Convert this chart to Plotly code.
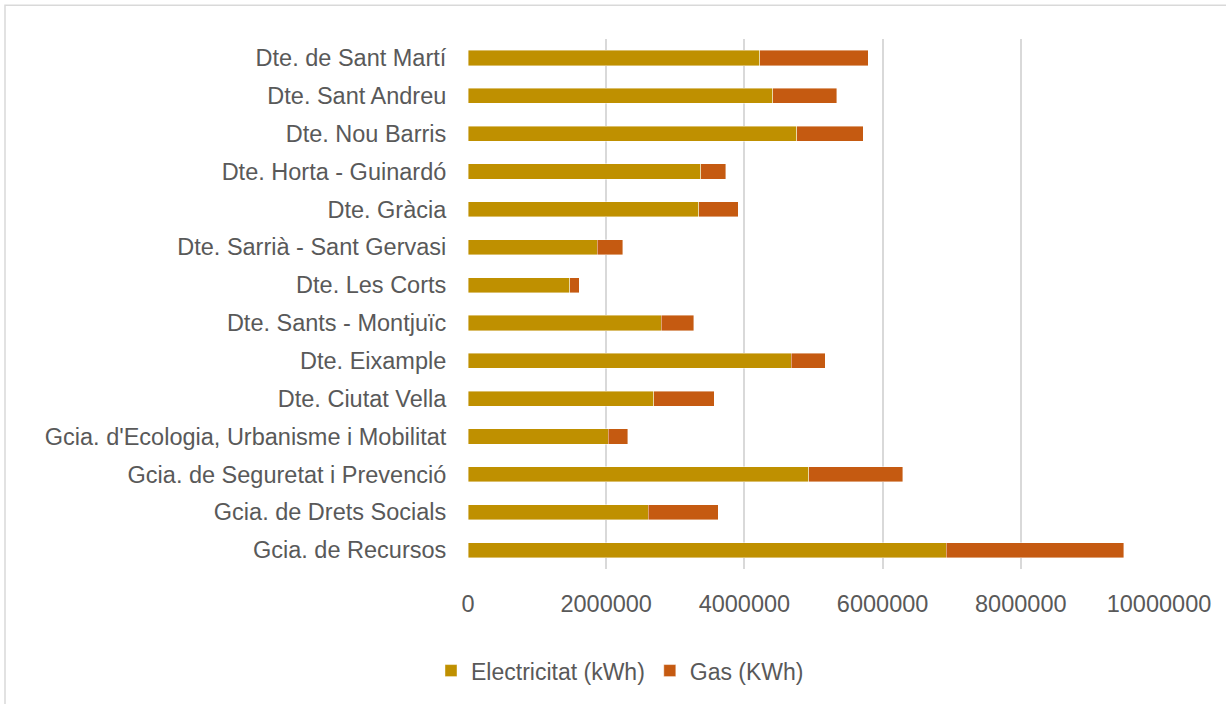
import plotly.graph_objects as go

categories = [
    "Gcia. de Recursos",
    "Gcia. de Drets Socials",
    "Gcia. de Seguretat i Prevenció",
    "Gcia. d'Ecologia, Urbanisme i Mobilitat",
    "Dte. Ciutat Vella",
    "Dte. Eixample",
    "Dte. Sants - Montjuïc",
    "Dte. Les Corts",
    "Dte. Sarrià - Sant Gervasi",
    "Dte. Gràcia",
    "Dte. Horta - Guinardó",
    "Dte. Nou Barris",
    "Dte. Sant Andreu",
    "Dte. de Sant Martí",
]
electricitat = [6920000, 2610000, 4930000, 2030000, 2690000, 4680000, 2800000,
                1470000, 1870000, 3340000, 3370000, 4760000, 4410000, 4220000]
gas = [2570000, 1010000, 1360000, 280000, 870000, 490000, 470000,
       140000, 370000, 570000, 360000, 960000, 930000, 1570000]
x_ticks = [0, 2000000, 4000000, 6000000, 8000000, 10000000]

FONT = "Liberation Sans, Arial, sans-serif"
TXT = "#595959"

fig = go.Figure()
fig.add_trace(go.Bar(
    y=categories, x=electricitat, orientation="h", name="Electricitat (kWh)",
    marker=dict(color="#BF9000", line=dict(color="rgba(255,255,255,0.6)", width=0.7)),
))
fig.add_trace(go.Bar(
    y=categories, x=gas, orientation="h", name="Gas (KWh)",
    marker=dict(color="#C55A11", line=dict(color="rgba(255,255,255,0.6)", width=0.7)),
))

L, R, T, B = 468, 67, 39, 133
W, H = 1226, 704
pw, ph = W - L - R, H - T - B

fig.update_layout(
    width=W, height=H,
    barmode="stack", bargap=0.6,
    plot_bgcolor="white", paper_bgcolor="white",
    margin=dict(l=L, r=R, t=T, b=B),
    font=dict(family=FONT, size=23.5, color=TXT),
    xaxis=dict(
        range=[0, 10000000], tickvals=x_ticks, ticktext=[str(v) for v in x_ticks],
        showgrid=True, gridcolor="#D9D9D9", gridwidth=1.5,
        zeroline=False, showline=False,
        ticks="outside", ticklen=14, tickcolor="rgba(0,0,0,0)",
        tickfont=dict(size=23.5, color=TXT),
    ),
    yaxis=dict(
        showgrid=False, zeroline=False, showline=False,
        ticks="outside", ticklen=16, tickcolor="rgba(0,0,0,0)",
        tickfont=dict(size=23.5, color=TXT),
    ),
    legend=dict(
        orientation="h", x=(620 - L) / pw, xanchor="center",
        y=(H - B - 673) / ph, yanchor="middle",
        font=dict(size=23, color=TXT), traceorder="normal",
        itemwidth=30,
    ),
    shapes=[dict(
        type="rect", xref="paper", yref="paper",
        x0=(5 - L) / pw, x1=(1240 - L) / pw,
        y0=(H - B - 720) / ph, y1=(H - B - 5) / ph,
        line=dict(color="#D9D9D9", width=1.5), fillcolor="rgba(0,0,0,0)",
        layer="below",
    )],
)

fig.write_html(
    "out.html",
    config={"displayModeBar": False},
    post_script="document.body.style.margin='0';document.body.style.overflow='hidden';",
)
